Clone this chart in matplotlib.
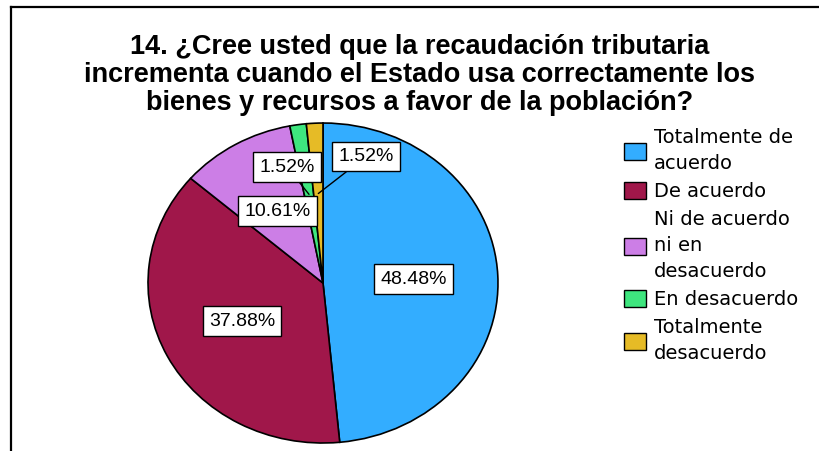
import matplotlib.pyplot as plt
from matplotlib.patches import Patch
from matplotlib.lines import Line2D
import numpy as np

plt.rcParams['font.family'] = ['Liberation Sans', 'DejaVu Sans']

title = ("14. ¿Cree usted que la recaudación tributaria\n"
         "incrementa cuando el Estado usa correctamente los\n"
         "bienes y recursos a favor de la población?")
categories = ["Totalmente de\nacuerdo", "De acuerdo", "Ni de acuerdo\nni en\ndesacuerdo",
              "En desacuerdo", "Totalmente\ndesacuerdo"]
percent = [48.48, 37.88, 10.61, 1.52, 1.52]
colors = ['#33adff', '#a0174a', '#cc7ee6', '#3ee67e', '#e6bb26']

fig = plt.figure(figsize=(8.2, 4.51), dpi=100)

# frame around the chart (only top and left edges are visible)
fig.add_artist(Line2D([11.5 / 820, 11.5 / 820], [0, 1 - 7 / 451], color='black', lw=1.6,
                      transform=fig.transFigure))
fig.add_artist(Line2D([11 / 820, 1], [1 - 7 / 451, 1 - 7 / 451], color='black', lw=1.6,
                      transform=fig.transFigure))

fig.text(0.512, 1 - 75 / 451, title, ha='center', va='center', fontsize=19.5,
         fontweight='bold', linespacing=1.08)

ax = fig.add_axes([0.1805, 0.0177, 0.4268, 0.7095])
wedges, _ = ax.pie(percent, colors=colors, startangle=90, counterclock=False, radius=1,
                   wedgeprops=dict(edgecolor='black', linewidth=1.2))
ax.set_aspect('auto')
ax.set_xlim(-1, 1)
ax.set_ylim(-1, 1)

box = dict(boxstyle='square,pad=0.32', facecolor='white', edgecolor='black', lw=1.0)
# label placement for the thin slices (axes units), others sit near half radius
small_pos = {3: (-0.205, 0.725), 4: (0.245, 0.79)}
for i, (w, p) in enumerate(zip(wedges, percent)):
    mid = np.deg2rad((w.theta1 + w.theta2) / 2)
    txt = f"{p:.2f}%"
    if i in small_pos:
        tip = (0.56 * np.cos(mid), 0.56 * np.sin(mid))
        ax.annotate(txt, xy=tip, xytext=small_pos[i], ha='center', va='center',
                    fontsize=14, bbox=box,
                    arrowprops=dict(arrowstyle='-', color='black', lw=1.0,
                                    shrinkA=0, shrinkB=0))
    else:
        ax.text(0.52 * np.cos(mid), 0.52 * np.sin(mid), txt, ha='center', va='center',
                fontsize=14, bbox=box)

handles = [Patch(facecolor=c, edgecolor='black', lw=1.0) for c in colors]
leg = fig.legend(handles, categories, loc='upper left',
                 bbox_to_anchor=(624 / 820, 1 - 128 / 451),
                 frameon=False, prop={'family': 'DejaVu Sans', 'size': 14},
                 handlelength=1.15, handleheight=1.0,
                 handletextpad=0.4, labelspacing=0.45, borderaxespad=0, borderpad=0)
for t in leg.get_texts():
    t.set_linespacing(1.47)

fig.savefig('out.png', dpi=100)
